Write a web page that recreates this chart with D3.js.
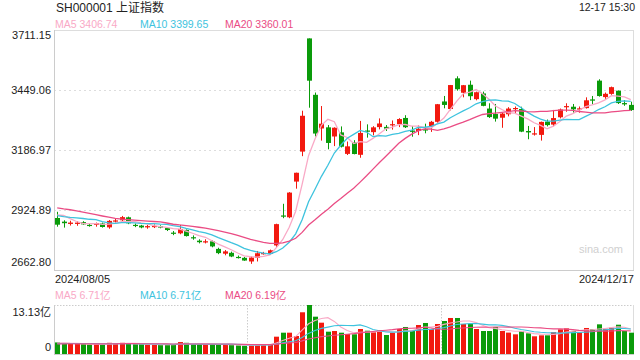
<!DOCTYPE html>
<html><head><meta charset="utf-8">
<script src="https://cdn.jsdelivr.net/npm/d3@7/dist/d3.min.js"></script>
<style>
html,body{margin:0;padding:0;background:#fff;}
svg{display:block;font-family:"Liberation Sans",Arial,"Noto Sans CJK SC",sans-serif;}
</style></head>
<body><svg id="c" width="640" height="360"></svg>
<script>
const dates = ["08-05","08-06","08-07","08-08","08-09","08-12","08-13","08-14","08-15","08-16","08-19","08-20","08-21","08-22","08-23","08-26","08-27","08-28","08-29","08-30",
"09-02","09-03","09-04","09-05","09-06","09-09","09-10","09-11","09-12","09-13","09-18","09-19","09-20","09-23","09-24","09-25","09-26","09-27","09-30",
"10-08","10-09","10-10","10-11","10-14","10-15","10-16","10-17","10-18","10-21","10-22","10-23","10-24","10-25","10-28","10-29","10-30","10-31",
"11-01","11-04","11-05","11-06","11-07","11-08","11-11","11-12","11-13","11-14","11-15","11-18","11-19","11-20","11-21","11-22","11-25","11-26","11-27","11-28","11-29",
"12-02","12-03","12-04","12-05","12-06","12-09","12-10","12-11","12-12","12-13","12-16","12-17"];

const open = [2890,2874,2864,2864,2872,2860,2860,2866,2849,2874,2880,2893,2860,2857,2849,2850,2855,2846,2826,2823,
2838,2806,2791,2783,2788,2755,2734,2738,2720,2716,2700,2716,2735,2733,2770,2901,2893,3049,3180,
3674.40,3428,3281,3286,3246,3264,3170,3220,3166,3272,3265,3287,3288,3296,3300,3327,3272,3270,
3278,3288,3310,3399,3366,3500,3437,3472,3409,3434,3368,3344,3328,3343,3366,3366,3270,3256,3253,3311,3298,
3330,3375,3376,3365,3370,3408,3490,3418,3432,3446,3392,3384];
const high = [2917,2880,2878,2876,2876,2867,2870,2870,2881,2886,2899,2896,2866,2860,2860,2862,2858,2850,2833,2860,
2840,2814,2797,2797,2792,2760,2750,2743,2726,2720,2722,2746,2742,2752,2865,2952,3003,3088,3358.59,
3674.40,3438,3379,3296,3286,3290,3224,3230,3314,3299,3291,3325,3296,3316,3326,3339,3292,3294,
3302,3314,3388,3423,3471,3509,3471,3490,3442,3442,3391,3388,3350,3374,3377,3376,3292,3287,3311,3320,3362,
3368,3391,3388,3377,3417,3423,3496,3438,3464,3447,3405,3398];
const low = [2852,2848,2857,2856,2860,2852,2852,2848,2843,2870,2874,2863,2850,2845,2843,2846,2845,2833,2815,2819,
2809,2795,2779,2779,2762,2732,2727,2719,2713,2703,2689.70,2700,2730,2730,2762,2889,2889,3018,3160,
3371.69,3246,3228,3190,3204,3198,3165,3168,3153,3241,3251,3277,3270,3276,3287,3283,3245,3252,
3260,3266,3306,3369,3360,3446,3417,3405,3404,3378,3327,3311,3284,3334,3344,3265,3234,3250,3228,3290,3290,
3325,3354,3350,3350,3368,3388,3420,3410,3428,3388,3380,3358];
const close = [2860.70,2867.28,2869.90,2869.83,2862.19,2858.20,2867.95,2850.65,2877.36,2879.43,2893.67,2866.66,2856.58,2848.77,2854.37,2855.52,2848.00,2837.43,2823.11,2842.21,
2811.04,2802.98,2784.28,2788.31,2765.81,2736.49,2744.19,2721.80,2717.12,2704.09,2717.28,2736.02,2736.81,2748.92,2863.13,2896.31,3000.95,3087.53,3336.50,
3489.78,3258.86,3301.93,3217.74,3284.32,3201.29,3202.95,3169.38,3261.56,3268.11,3285.87,3302.80,3280.26,3299.70,3322.20,3286.41,3266.24,3279.82,
3272.01,3310.21,3386.99,3383.81,3470.66,3452.30,3470.07,3421.97,3439.28,3379.84,3330.73,3323.85,3346.01,3367.99,3370.40,3267.19,3263.76,3259.76,3309.78,3295.70,3326.46,
3363.98,3378.81,3364.65,3368.86,3404.08,3402.53,3422.66,3432.49,3461.50,3391.88,3386.33,3361.49];
// closes of the 20 sessions before 08-05 (for moving averages)
const priorClose = [2922.45,2959.37,2939.36,2970.39,2971.30,2974.01,2976.30,2962.85,2977.13,2982.31,2964.22,2915.37,2901.95,2886.74,2890.90,2891.85,2879.30,2938.75,2932.39,2905.34];

// volume, 亿
const volume = [3.1,2.9,2.7,2.8,2.6,2.5,2.6,2.5,3.0,2.9,3.0,2.8,2.6,2.6,2.5,2.5,2.4,2.4,2.6,3.2,
3.0,2.6,2.6,2.5,2.6,2.5,2.5,2.4,2.3,2.2,2.3,2.6,2.6,2.5,4.64,5.71,5.71,4.82,11.18,
13.13,10.0,8.39,5.98,6.16,5.71,5.36,5.28,6.70,6.24,5.82,6.43,5.09,5.71,6.70,7.24,6.24,7.77,
8.31,6.70,8.04,8.84,9.65,9.65,8.04,8.04,6.70,6.16,6.16,7.24,6.16,5.73,5.27,6.08,5.54,4.74,5.00,5.00,5.89,
6.61,6.86,6.18,5.75,6.97,6.70,7.95,6.78,7.05,7.85,6.16,5.71];
const priorVolume = [2.7,2.9,2.6,2.9,2.7,2.6,2.5,2.5,2.7,2.6,2.6,2.8,2.6,2.7,2.5,2.5,2.6,3.2,3.0,2.9];

const priceTicks = [3711.15, 3449.06, 3186.97, 2924.89, 2662.80];
const volTickTop = 13.13;
const maPeriods = [5, 10, 20];
const maColors = ["#f9a9c6", "#3ec3de", "#ea4c84"];
const upColor = "#f2190f", downColor = "#0a9b0a";

const svg = d3.select("#c");
const L = 54, R = 634, T = 30, B = 270;
const VT = 305, VB = 354;

const x = d3.scaleBand().domain(d3.range(dates.length)).range([L, R]).paddingInner(0.22).paddingOuter(0.11);
const y = d3.scaleLinear().domain([priceTicks[4], priceTicks[0]]).range([B, T]);
const yv = d3.scaleLinear().domain([0, volTickTop]).range([VB, VT]);
const cx = i => x(i) + x.bandwidth() / 2;

function movingAvg(prior, vals, n) {
  const all = prior.concat(vals), p = prior.length;
  return vals.map((_, i) => d3.mean(all.slice(p + i - n + 1, p + i + 1)));
}
// two decimals, exact halves rounded down (as the source shows)
const fmt2 = v => (Math.ceil(v * 100 - 0.5 - 1e-6) / 100).toFixed(2);

// header
svg.append("text").attr("x", 56).attr("y", 12).attr("font-size", 12).attr("fill", "#222").text("SH000001 上证指数");
svg.append("text").attr("x", 635).attr("y", 11).attr("text-anchor", "end").attr("font-size", 10.5).attr("fill", "#222").text("12-17 15:30");

const priceMA = maPeriods.map(n => movingAvg(priorClose, close, n));
const volMA = maPeriods.map(n => movingAvg(priorVolume, volume, n));
const legX = [55, 140, 225];
maPeriods.forEach((n, k) => {
  svg.append("text").attr("x", legX[k]).attr("y", 28).attr("font-size", 10.5).attr("fill", maColors[k])
    .text("MA" + n + " " + fmt2(priceMA[k][close.length - 1]));
  svg.append("text").attr("x", legX[k]).attr("y", 299).attr("font-size", 10.5).attr("fill", maColors[k])
    .text("MA" + n + " " + fmt2(volMA[k][volume.length - 1]) + "亿");
});

// price frame + grid
svg.append("line").attr("x1", L).attr("x2", R).attr("y1", T + 0.5).attr("y2", T + 0.5).attr("stroke", "#ddd");
svg.append("line").attr("x1", R - 0.5).attr("x2", R - 0.5).attr("y1", T).attr("y2", B).attr("stroke", "#ddd");
svg.selectAll(".grid").data(priceTicks.slice(1, 4)).enter().append("line")
  .attr("x1", L).attr("x2", R).attr("y1", d => Math.round(y(d)) + 0.5).attr("y2", d => Math.round(y(d)) + 0.5)
  .attr("stroke", "#ddd").attr("stroke-width", 1.2).attr("stroke-dasharray", "2,3");
svg.append("line").attr("x1", L).attr("x2", R).attr("y1", B + 0.5).attr("y2", B + 0.5).attr("stroke", "#ccc");
svg.append("line").attr("x1", L + 0.5).attr("x2", L + 0.5).attr("y1", T).attr("y2", B).attr("stroke", "#ccc");

priceTicks.forEach((t, k) => {
  let yy = y(t) + 4;
  if (k === 0) yy = T + 9;
  if (k === 4) yy = B - 4;
  svg.append("text").attr("x", 51).attr("y", yy).attr("text-anchor", "end").attr("font-size", 11).attr("fill", "#222").text(t.toFixed(2));
});

svg.append("text").attr("x", 55).attr("y", 283).attr("font-size", 11).attr("fill", "#222").text("2024/" + dates[0].replace("-", "/"));
svg.append("text").attr("x", 634).attr("y", 283).attr("text-anchor", "end").attr("font-size", 11).attr("fill", "#222").text("2024/" + dates[dates.length - 1].replace("-", "/"));
svg.append("text").attr("x", 623).attr("y", 253).attr("text-anchor", "end").attr("font-size", 11).attr("fill", "#d0d0d0").text("sina.com");

// candles
const idx = d3.range(dates.length);
const g = svg.append("g");
g.selectAll(".wick").data(idx).enter().append("line")
  .attr("x1", i => Math.round(cx(i)) + 0.5).attr("x2", i => Math.round(cx(i)) + 0.5)
  .attr("y1", i => y(high[i])).attr("y2", i => y(low[i]))
  .attr("stroke", i => close[i] >= open[i] ? upColor : downColor);
g.selectAll(".body").data(idx).enter().append("rect")
  .attr("x", i => Math.round(cx(i)) + 0.5 - 2.5).attr("width", 5)
  .attr("y", i => y(Math.max(open[i], close[i])))
  .attr("height", i => Math.max(1.2, Math.abs(y(open[i]) - y(close[i]))))
  .attr("fill", i => close[i] >= open[i] ? upColor : downColor);

// price MAs
maPeriods.forEach((n, k) => {
  svg.append("path").datum(priceMA[k]).attr("fill", "none").attr("stroke", maColors[k]).attr("stroke-width", 1.3)
    .attr("d", d3.line().x((d, i) => cx(i)).y(d => y(d)));
});

// volume panel
svg.append("line").attr("x1", L).attr("x2", R).attr("y1", VT + 0.5).attr("y2", VT + 0.5).attr("stroke", "#ccc").attr("stroke-dasharray", "1.5,1.5");
[1, 2].forEach(k => {
  const xx = Math.round(L + (R - L) * k / 3) + 0.5;
  svg.append("line").attr("x1", xx).attr("x2", xx).attr("y1", VT).attr("y2", VB).attr("stroke", "#ccc").attr("stroke-dasharray", "1.5,1.5");
});
svg.append("line").attr("x1", L + 0.5).attr("x2", L + 0.5).attr("y1", VT).attr("y2", VB).attr("stroke", "#ccc");
svg.append("line").attr("x1", R - 0.5).attr("x2", R - 0.5).attr("y1", VT).attr("y2", VB).attr("stroke", "#ddd");
svg.append("line").attr("x1", L).attr("x2", R).attr("y1", VB + 0.5).attr("y2", VB + 0.5).attr("stroke", "#ccc");
svg.append("text").attr("x", 51).attr("y", VT + 11).attr("text-anchor", "end").attr("font-size", 11).attr("fill", "#222").text(volTickTop.toFixed(2) + "亿");
svg.append("text").attr("x", 51).attr("y", VB - 3).attr("text-anchor", "end").attr("font-size", 11).attr("fill", "#222").text("0");

svg.append("g").selectAll("rect").data(idx).enter().append("rect")
  .attr("x", i => Math.round(cx(i)) + 0.5 - 2.5).attr("width", 5)
  .attr("y", i => yv(volume[i])).attr("height", i => yv(0) - yv(volume[i]))
  .attr("fill", i => close[i] >= open[i] ? upColor : downColor);
maPeriods.forEach((n, k) => {
  svg.append("path").datum(volMA[k]).attr("fill", "none").attr("stroke", maColors[k]).attr("stroke-width", 1.1)
    .attr("d", d3.line().x((d, i) => cx(i)).y(d => yv(d)));
});
</script></body></html>
